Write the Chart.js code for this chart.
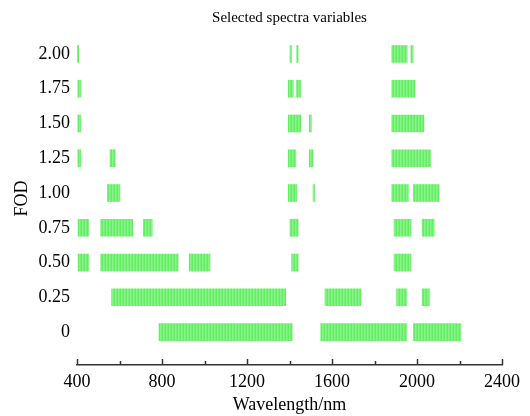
<!DOCTYPE html>
<html>
<head>
<meta charset="utf-8">
<script src="https://cdn.jsdelivr.net/npm/chart.js@4/dist/chart.umd.min.js"></script>
<style>
html,body{margin:0;padding:0;background:#fff;}
#wrap{width:530px;height:416px;position:relative;}
</style>
</head>
<body>
<div id="wrap"><canvas id="c" width="530" height="416"></canvas></div>
<script>
// FOD levels (y categories) and their tick labels
const fodLevels = [0, 0.25, 0.5, 0.75, 1.0, 1.25, 1.5, 1.75, 2.0];
const fodLabels = ['0', '0.25', '0.50', '0.75', '1.00', '1.25', '1.50', '1.75', '2.00'];

// Selected wavelength ranges (nm) for each FOD level: [start, end]
const sel_0_00 = [[786, 1413], [1547, 1951], [1983, 2206]];
const sel_0_25 = [[563, 1382], [1567, 1736], [1904, 1951], [2024, 2058]];
const sel_0_50 = [[405, 455], [511, 876], [928, 1026], [1410, 1441], [1892, 1972]];
const sel_0_75 = [[405, 455], [511, 662], [712, 754], [1402, 1441], [1892, 1972], [2024, 2081]];
const sel_1_00 = [[543, 602], [1394, 1434], [1511, 1519], [1881, 1959], [1983, 2104]];
const sel_1_25 = [[404, 418], [555, 580], [1394, 1430], [1493, 1511], [1881, 2064]];
const sel_1_50 = [[404, 418], [1394, 1454], [1493, 1503], [1881, 2033]];
const sel_1_75 = [[404, 418], [1394, 1418], [1433, 1452], [1881, 1991]];
const sel_2_00 = [[402, 408], [1402, 1409], [1434, 1441], [1881, 1954], [1971, 1982]];

const selections = [sel_0_00, sel_0_25, sel_0_50, sel_0_75, sel_1_00, sel_1_25, sel_1_50, sel_1_75, sel_2_00];

// X axis ticks
const xMajorTicks = [400, 800, 1200, 1600, 2000, 2400];
const xMinorTicks = [600, 1000, 1400, 1800, 2200];

// striped green fill
const pc = document.createElement('canvas');
pc.width = 3; pc.height = 1;
const pctx = pc.getContext('2d');
const stripeCols = ['rgb(100,236,100)', 'rgb(134,245,134)', 'rgb(120,241,120)'];
stripeCols.forEach((c, i) => { pctx.fillStyle = c; pctx.fillRect(i, 0, 1, 1); });
const ctx = document.getElementById('c').getContext('2d');
const stripe = ctx.createPattern(pc, 'repeat');

const datasets = fodLevels.map((lvl, i) => ({
  label: fodLabels[i],
  data: selections[i].map(r => ({ x: r, y: lvl })),
  backgroundColor: stripe,
  borderWidth: 0,
  grouped: false,
  barThickness: 17
}));

const tickPlugin = {
  id: 'inwardTicks',
  afterDraw(chart) {
    const xs = chart.scales.x;
    const yb = chart.chartArea.bottom;
    const c = chart.ctx;
    c.save();
    c.strokeStyle = '#333';
    c.lineWidth = 1.5;
    xMajorTicks.forEach(v => {
      const px = Math.round(xs.getPixelForValue(v)) + 0.5;
      c.beginPath(); c.moveTo(px, yb); c.lineTo(px, yb - 6); c.stroke();
    });
    xMinorTicks.forEach(v => {
      const px = Math.round(xs.getPixelForValue(v)) + 0.5;
      c.beginPath(); c.moveTo(px, yb); c.lineTo(px, yb - 4); c.stroke();
    });
    c.restore();
  }
};

const serif = '"Liberation Serif", "Times New Roman", serif';

new Chart(ctx, {
  type: 'bar',
  data: { datasets },
  plugins: [tickPlugin],
  options: {
    indexAxis: 'y',
    responsive: false,
    animation: false,
    layout: { padding: { left: 0, right: 28, top: 0, bottom: 0 } },
    plugins: {
      legend: { display: false },
      tooltip: { enabled: false },
      title: {
        display: true,
        text: 'Selected spectra variables',
        fullSize: false,
        color: '#000',
        font: { family: serif, size: 15, weight: 'normal' },
        padding: { top: 9, bottom: 5 }
      }
    },
    scales: {
      x: {
        type: 'linear',
        min: 400, max: 2400,
        offset: false,
        grid: { display: false, drawTicks: false },
        border: { display: true, color: '#333', width: 1.5 },
        ticks: {
          stepSize: 400,
          color: '#000',
          padding: 6,
          font: { family: serif, size: 18 },
          callback(v) { return String(v); }
        },
        title: {
          display: true,
          text: 'Wavelength/nm',
          color: '#000',
          font: { family: serif, size: 18 },
          padding: { top: 0, bottom: 0 }
        },
        afterFit(s) { s.height = 51; s.paddingLeft = 0; s.paddingRight = 0; }
      },
      y: {
        type: 'linear',
        min: -0.237, max: 2.158,
        offset: false,
        grid: { display: false, drawTicks: false },
        border: { display: false },
        afterBuildTicks(s) { s.ticks = fodLevels.map(v => ({ value: v })); },
        ticks: {
          color: '#000',
          padding: 7,
          font: { family: serif, size: 18 },
          callback(v) { const i = fodLevels.indexOf(v); return i >= 0 ? fodLabels[i] : ''; }
        },
        title: {
          display: true,
          text: 'FOD',
          color: '#000',
          font: { family: serif, size: 18 },
          padding: { top: 11, bottom: 0 }
        },
        afterFit(s) { s.width = 77; s.paddingTop = 0; s.paddingBottom = 0; }
      }
    }
  }
});
</script>
</body>
</html>
